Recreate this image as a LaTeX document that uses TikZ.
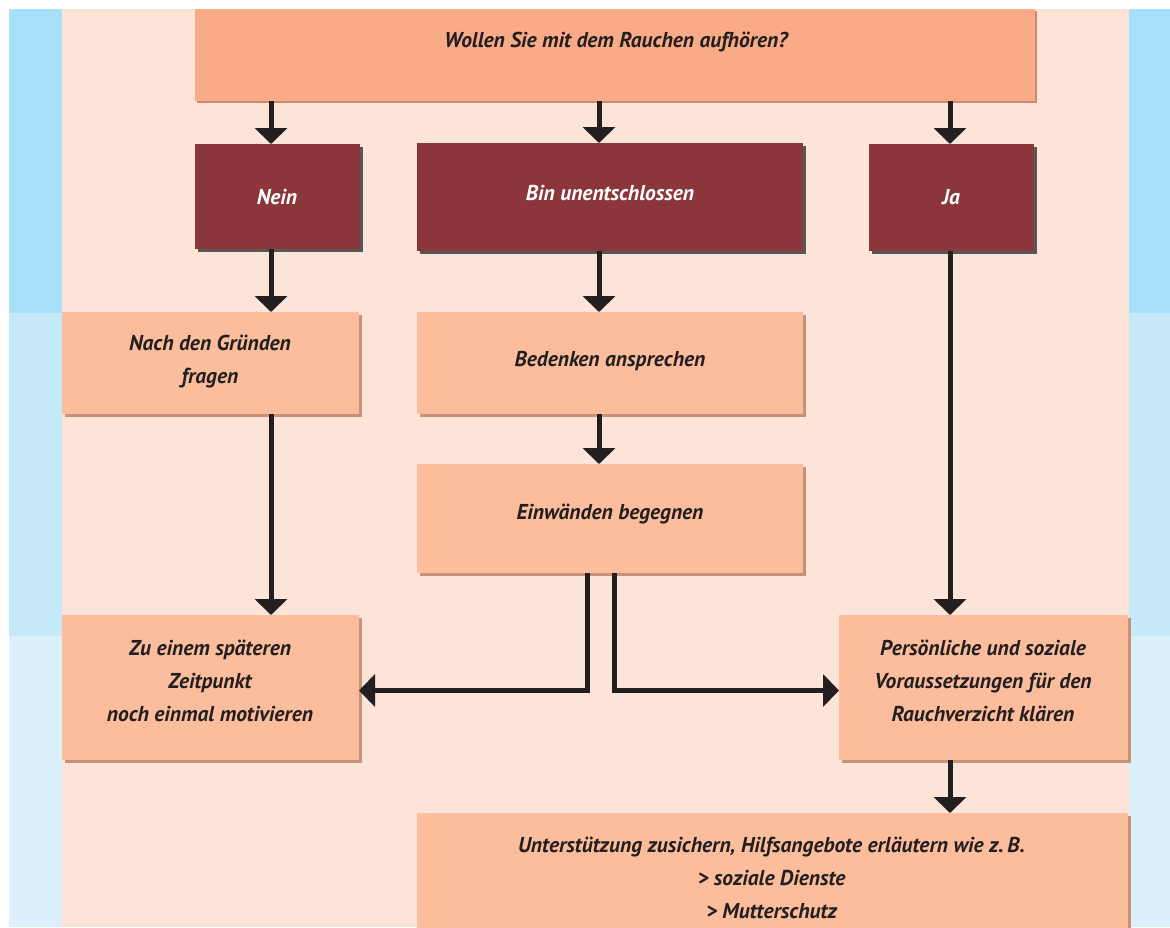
\documentclass[tikz,border=0pt]{standalone}
\usepackage{fontspec}
\setmainfont{PT Sans}
\usetikzlibrary{arrows.meta}
\definecolor{peach}{HTML}{FDE4D8}
\definecolor{blueA}{HTML}{A9E0F9}
\definecolor{blueB}{HTML}{C6E9F9}
\definecolor{blueC}{HTML}{DAF1FC}
\definecolor{topfill}{HTML}{F9AA87}
\definecolor{topshadow}{HTML}{C98B70}
\definecolor{darkred}{HTML}{8B363A}
\definecolor{darkshadow}{HTML}{5A5656}
\definecolor{lightfill}{HTML}{FBBD9C}
\definecolor{lightshadow}{HTML}{C8917A}
\definecolor{ink}{HTML}{231F20}
\begin{document}
\begin{tikzpicture}[x=1pt,y=-1pt,
  boxbase/.style={rectangle, inner sep=0pt, outer sep=0pt, draw=none},
  topbox/.style={boxbase, fill=topfill, preaction={fill=topshadow, transform canvas={shift={(2pt,-2pt)}}}},
  darkbox/.style={boxbase, fill=darkred, preaction={fill=darkshadow, transform canvas={shift={(2.5pt,-2.5pt)}}}},
  lightbox/.style={boxbase, fill=lightfill, preaction={fill=lightshadow, transform canvas={shift={(2.5pt,-2.5pt)}}}},
  txt/.style={align=center, text=ink, font=\fontsize{21.5}{33}\selectfont\bfseries\itshape},
  wtxt/.style={txt, text=white},
  arr/.style={draw=ink, line width=5pt, -{Triangle[width=32pt,length=16pt]}}
]
\useasboundingbox (0,0) rectangle (1170,927);
% background
\fill[white] (0,0) rectangle (1170,927);
\fill[blueA] (9,9) rectangle (1170,313);
\fill[blueB] (9,313) rectangle (1170,636);
\fill[blueC] (9,636) rectangle (1170,927);
\fill[peach] (62,9) rectangle (1129,927);

% boxes
\node[topbox, minimum width=840, minimum height=92] (top) at (615,55) {};
\node[darkbox, minimum width=165, minimum height=105] (nein) at (277.5,196.5) {};
\node[darkbox, minimum width=386, minimum height=108] (bin) at (610,197) {};
\node[darkbox, minimum width=165, minimum height=107] (ja) at (951.5,197.5) {};
\node[lightbox, minimum width=297, minimum height=102] (nach) at (210.5,363) {};
\node[lightbox, minimum width=386, minimum height=102] (bed) at (610,363) {};
\node[lightbox, minimum width=386, minimum height=109] (ein) at (610,518.5) {};
\node[lightbox, minimum width=297, minimum height=145] (zu) at (210.5,687.5) {};
\node[lightbox, minimum width=289, minimum height=145] (pers) at (983.5,687.5) {};
\node[lightbox, minimum width=711, minimum height=130] (unt) at (772.5,878) {};

% texts
\node[txt] (ttop) at (616,42) {Wollen Sie mit dem Rauchen aufhören?};
\node[wtxt] (tnein) at (277,197) {Nein};
\node[wtxt] (tbin) at (610,193) {Bin unentschlossen};
\node[wtxt] (tja) at (951,197) {Ja};
\node[txt] (tnach) at (210,362) {Nach den Gründen\\fragen};
\node[txt] (tbed) at (610,361) {Bedenken ansprechen};
\node[txt] (tein) at (610,514) {Einwänden begegnen};
\node[txt] (tzu) at (210,681) {Zu einem späteren\\Zeitpunkt\\noch einmal motivieren};
\node[txt] (tpers) at (983,681) {Persönliche und soziale\\Voraussetzungen für den\\Rauchverzicht klären};
\node[txt] (tunt) at (771.5,878) {Unterstützung zusichern, Hilfsangebote erläutern wie z.\,B.\\> soziale Dienste\\> Mutterschutz};

% connector columns
\coordinate (cA) at (271,0);
\coordinate (cB) at (599,0);
\coordinate (cC) at (950,0);
\coordinate (cD) at (587,0);
\coordinate (cE) at (614,0);

\draw[arr] (top.south -| cA) -- (nein.north -| cA);
\draw[arr] (top.south -| cB) -- (bin.north -| cB);
\draw[arr] (top.south -| cC) -- (ja.north -| cC);
\draw[arr] (nein.south -| cA) -- (nach.north -| cA);
\draw[arr] (bin.south -| cB) -- (bed.north -| cB);
\draw[arr] (bed.south -| cB) -- (ein.north -| cB);
\draw[arr] (nach.south -| cA) -- (zu.north -| cA);
\draw[arr] (ja.south -| cC) -- (pers.north -| cC);
\draw[arr] (pers.south -| cC) -- (unt.north -| cC);
\draw[arr] (ein.south -| cD) |- ([yshift=-3pt]zu.east);
\draw[arr] (ein.south -| cE) |- ([yshift=-3pt]pers.west);
\end{tikzpicture}
\end{document}
